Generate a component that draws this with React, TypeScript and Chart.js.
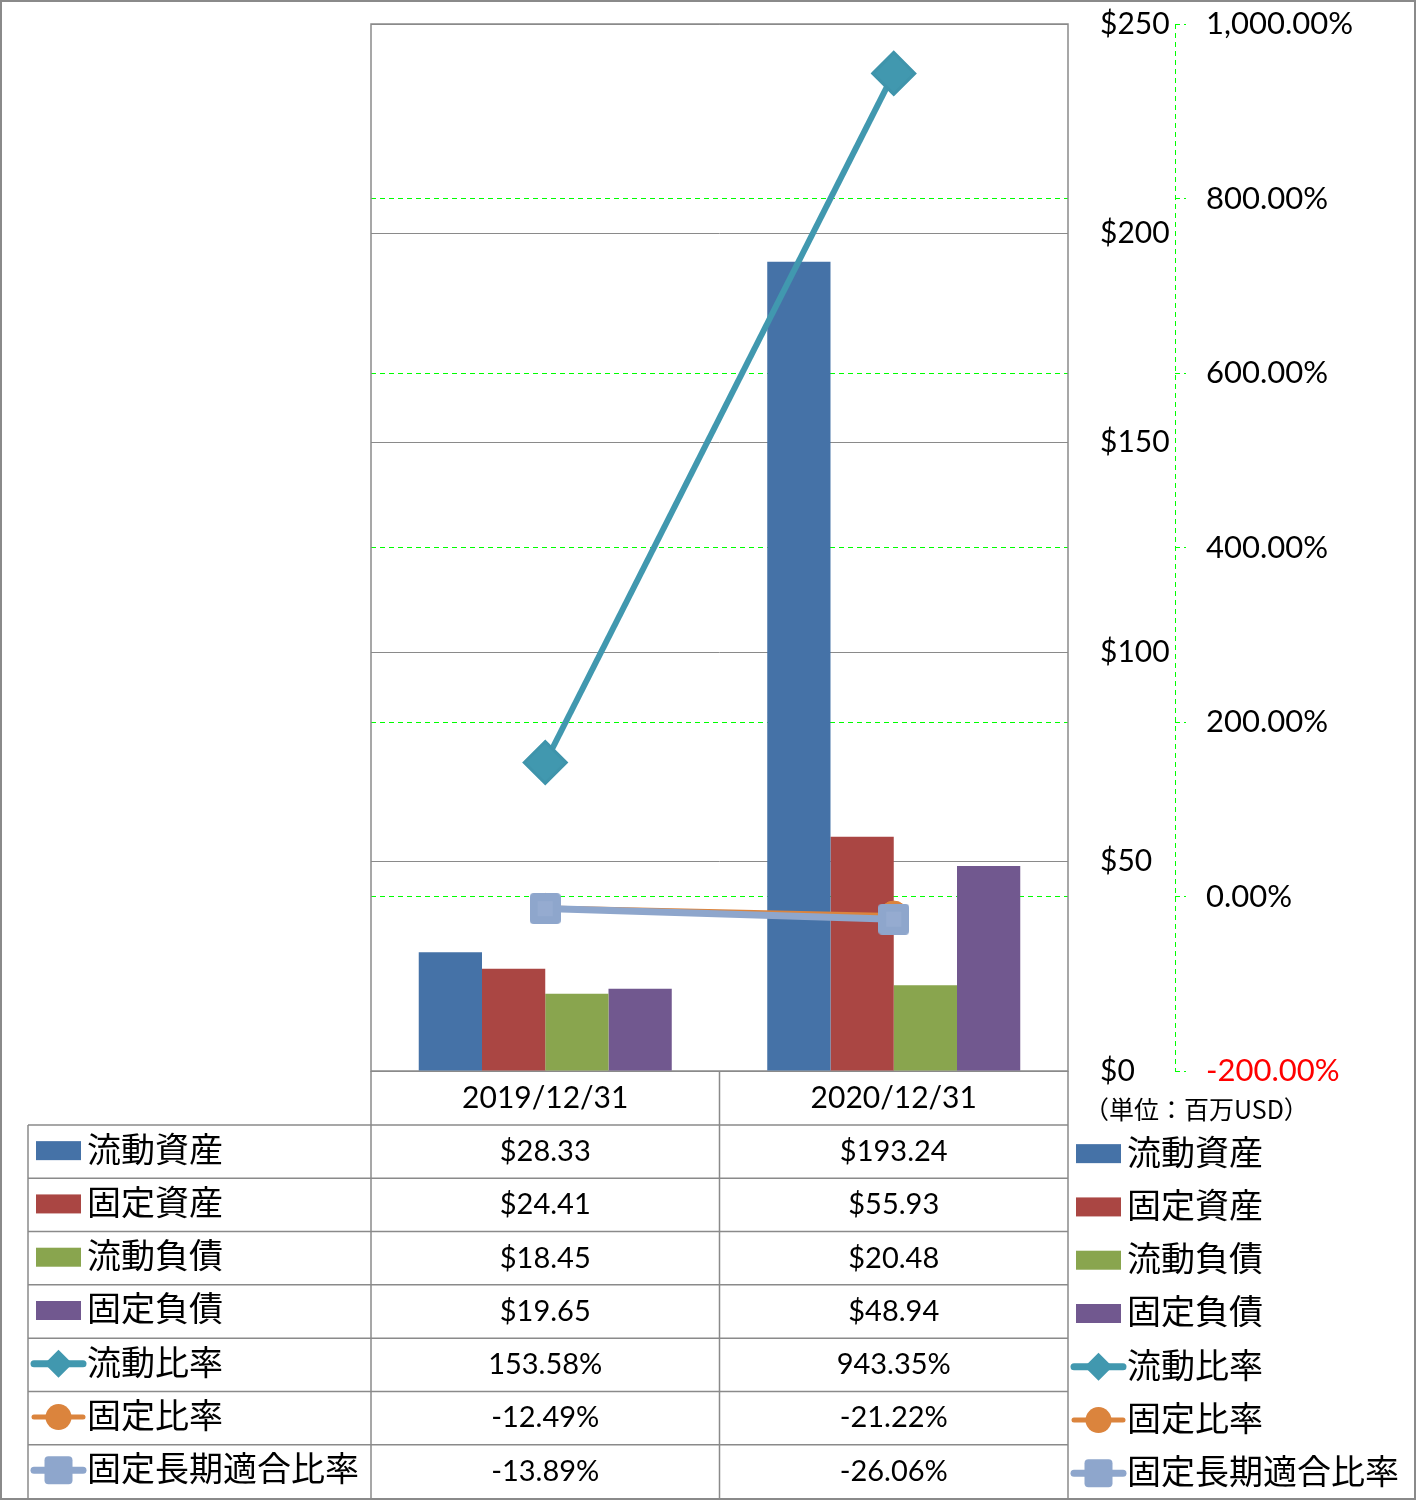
import React, { useEffect, useRef } from 'react';
import { Chart, registerables } from 'chart.js';

Chart.register(...registerables);

const categories = ['2019/12/31', '2020/12/31'];
const currentAssets = [28.33, 193.24];
const fixedAssets = [24.41, 55.93];
const currentLiabilities = [18.45, 20.48];
const fixedLiabilities = [19.65, 48.94];
const currentRatio = [153.58, 943.35];
const fixedRatio = [-12.49, -21.22];
const fixedLongTermRatio = [-13.89, -26.06];

const seriesNames = ['流動資産', '固定資産', '流動負債', '固定負債', '流動比率', '固定比率', '固定長期適合比率'];
const seriesColors = ['#4572A7', '#AA4643', '#89A54E', '#71588F', '#4198AF', '#DB843D', '#8EA6CC'];
const seriesKinds = ['bar', 'bar', 'bar', 'bar', 'rectRot', 'circle', 'rectRounded'];
const seriesData = [currentAssets, fixedAssets, currentLiabilities, fixedLiabilities, currentRatio, fixedRatio, fixedLongTermRatio];
const unitLabel = '（単位：百万USD）';

const LATIN = 'Lato, "Noto Sans", sans-serif';
const CJK = '"Noto Sans CJK JP", "Noto Sans", sans-serif';

const fmtMoney = (v: number) => '$' + v.toFixed(2);
const fmtPct = (v: number) =>
  v.toLocaleString('en-US', { minimumFractionDigits: 2, maximumFractionDigits: 2 }) + '%';

function makeSquareImage(size: number, color: string, inner: string) {
  const c = document.createElement('canvas');
  c.width = size;
  c.height = size;
  const g = c.getContext('2d')!;
  g.fillStyle = color;
  g.beginPath();
  g.roundRect(0, 0, size, size, 4);
  g.fill();
  g.fillStyle = inner;
  const m = size * 0.25;
  g.fillRect(m, m, size - 2 * m, size - 2 * m);
  return c;
}

function drawMarker(ctx: CanvasRenderingContext2D, kind: string, x: number, y: number, color: string) {
  ctx.save();
  ctx.fillStyle = color;
  ctx.beginPath();
  if (kind === 'rectRot') {
    const r = 14;
    ctx.moveTo(x - r, y);
    ctx.lineTo(x, y - r);
    ctx.lineTo(x + r, y);
    ctx.lineTo(x, y + r);
    ctx.closePath();
  } else if (kind === 'circle') {
    ctx.arc(x, y, 13, 0, Math.PI * 2);
  } else {
    const h = 14;
    ctx.roundRect(x - h, y - h, 2 * h, 2 * h, 4);
  }
  ctx.fill();
  ctx.restore();
}

function drawLegendSymbol(ctx: CanvasRenderingContext2D, idx: number, x0: number, cy: number) {
  const color = seriesColors[idx];
  const kind = seriesKinds[idx];
  if (kind === 'bar') {
    ctx.fillStyle = color;
    ctx.fillRect(x0 + 2, cy - 9.5, 45, 19);
  } else {
    ctx.save();
    ctx.strokeStyle = color;
    ctx.lineWidth = kind === 'circle' ? 5 : 7;
    ctx.lineCap = 'round';
    ctx.beginPath();
    ctx.moveTo(x0, cy);
    ctx.lineTo(x0 + 49, cy);
    ctx.stroke();
    ctx.restore();
    drawMarker(ctx, kind, x0 + 24.5, cy, color);
  }
}

const tablePlugin = {
  id: 'tablePlugin',
  beforeDatasetsDraw(chart: any) {
    const { ctx, chartArea } = chart;
    const y1 = chart.scales.y1;
    ctx.save();
    ctx.strokeStyle = '#00ff00';
    ctx.lineWidth = 1;
    ctx.setLineDash([5, 4]);
    ctx.beginPath();
    ctx.moveTo(y1.left + 0.5, chartArea.top);
    ctx.lineTo(y1.left + 0.5, chartArea.bottom);
    ctx.stroke();
    ctx.setLineDash([]);
    ctx.strokeStyle = '#8a8a8a';
    ctx.lineWidth = 1.5;
    ctx.strokeRect(chartArea.left, chartArea.top, chartArea.right - chartArea.left, chartArea.bottom - chartArea.top);
    ctx.restore();
  },
  afterDraw(chart: any) {
    const { ctx, chartArea, width, height } = chart;
    const xScale = chart.scales.x;
    const left = chartArea.left;
    const right = chartArea.right;
    const colW = (right - left) / categories.length;
    const tableLeft = 28;
    const headerBottom = 1125;
    const bottom = height - 2;
    const rowH = (bottom - headerBottom) / seriesNames.length;

    ctx.save();
    ctx.strokeStyle = '#8a8a8a';
    ctx.lineWidth = 1.5;
    ctx.beginPath();
    for (let i = 0; i <= categories.length; i++) {
      const x = left + i * colW;
      ctx.moveTo(x, chartArea.bottom);
      ctx.lineTo(x, bottom);
    }
    ctx.moveTo(tableLeft, headerBottom);
    ctx.lineTo(tableLeft, bottom);
    for (let r = 0; r < seriesNames.length; r++) {
      const y = headerBottom + r * rowH;
      ctx.moveTo(tableLeft, y);
      ctx.lineTo(right, y);
    }
    ctx.stroke();

    ctx.fillStyle = '#000';
    ctx.textAlign = 'center';
    ctx.textBaseline = 'middle';
    ctx.font = `29px ${LATIN}`;
    for (let r = 0; r < seriesNames.length; r++) {
      const cy = headerBottom + r * rowH + rowH / 2;
      for (let c = 0; c < categories.length; c++) {
        const v = seriesData[r][c];
        const txt = r < 4 ? fmtMoney(v) : fmtPct(v);
        ctx.fillText(txt, xScale.getPixelForValue(c), cy);
      }
    }

    ctx.textAlign = 'left';
    ctx.font = `34px ${CJK}`;
    for (let r = 0; r < seriesNames.length; r++) {
      const cy = headerBottom + r * rowH + rowH / 2 - 1;
      drawLegendSymbol(ctx, r, 34, cy);
      ctx.fillStyle = '#000';
      ctx.fillText(seriesNames[r], 87, cy - 2);
    }

    for (let r = 0; r < seriesNames.length; r++) {
      const cy = headerBottom + r * rowH + rowH / 2 + 2;
      drawLegendSymbol(ctx, r, 1074, cy);
      ctx.fillStyle = '#000';
      ctx.font = `34px ${CJK}`;
      ctx.fillText(seriesNames[r], 1127, cy - 2);
    }

    ctx.font = `25px ${CJK}`;
    ctx.fillStyle = '#000';
    ctx.fillText(unitLabel, 1084, 1109);

    ctx.strokeStyle = '#8a8a8a';
    ctx.lineWidth = 2;
    ctx.strokeRect(1, 1, width - 2, height - 2);
    ctx.restore();
  },
};

export default function App() {
  const canvasRef = useRef<HTMLCanvasElement | null>(null);

  useEffect(() => {
    document.body.style.margin = '0';
    const canvas = canvasRef.current;
    if (!canvas) return;

    const squareImg = makeSquareImage(31, '#8EA6CC', '#95ABD0');

    const barSets = [0, 1, 2, 3].map((i) => ({
      type: 'bar' as const,
      label: seriesNames[i],
      data: seriesData[i],
      backgroundColor: seriesColors[i],
      borderWidth: 0,
      yAxisID: 'y',
      categoryPercentage: 0.726,
      barPercentage: 1.0,
      order: 10,
    }));

    const lineSets = [
      {
        type: 'line' as const,
        label: seriesNames[4],
        data: seriesData[4],
        borderColor: seriesColors[4],
        backgroundColor: seriesColors[4],
        borderWidth: 6,
        pointStyle: 'rectRot',
        pointRadius: 21,
        pointBorderWidth: 3,
        pointBackgroundColor: seriesColors[4],
        pointBorderColor: '#3f94ab',
        yAxisID: 'y1',
        order: 3,
      },
      {
        type: 'line' as const,
        label: seriesNames[5],
        data: seriesData[5],
        borderColor: seriesColors[5],
        backgroundColor: seriesColors[5],
        borderWidth: 4,
        pointStyle: 'circle',
        pointRadius: 14,
        pointBorderWidth: 1,
        pointBackgroundColor: seriesColors[5],
        pointBorderColor: seriesColors[5],
        yAxisID: 'y1',
        order: 2,
      },
      {
        type: 'line' as const,
        label: seriesNames[6],
        data: seriesData[6],
        borderColor: seriesColors[6],
        backgroundColor: seriesColors[6],
        borderWidth: 7,
        pointStyle: squareImg,
        pointRadius: 16,
        pointBorderWidth: 0,
        yAxisID: 'y1',
        order: 1,
      },
    ];

    const fixPad = (s: any) => {
      s.paddingTop = 0;
      s.paddingBottom = 0;
    };

    const chart = new Chart(canvas, {
      type: 'bar',
      data: {
        labels: categories,
        datasets: [...barSets, ...lineSets] as any,
      },
      options: {
        responsive: false,
        animation: false,
        devicePixelRatio: 1,
        layout: { padding: { left: 371, top: 22, right: 0, bottom: 0 } },
        plugins: {
          legend: { display: false },
          tooltip: { enabled: false },
        },
        scales: {
          x: {
            grid: { display: false, drawTicks: false },
            border: { display: false },
            ticks: {
              color: '#000',
              font: { family: LATIN, size: 30 },
              padding: 9,
              maxRotation: 0,
            },
            afterFit: (s: any) => {
              s.height = 429;
            },
          },
          y: {
            position: 'right',
            min: 0,
            max: 250,
            ticks: {
              stepSize: 50,
              color: '#000',
              font: { family: LATIN, size: 30 },
              padding: 32,
              callback: (v: any) => '$' + v,
            },
            grid: { color: '#8a8a8a', lineWidth: 1, drawTicks: false },
            border: { display: false },
            afterFit: (s: any) => {
              s.width = 107;
              fixPad(s);
            },
          },
          y1: {
            position: 'right',
            min: -200,
            max: 1000,
            ticks: {
              stepSize: 200,
              color: (c: any) => (c.tick && c.tick.value < 0 ? '#ff0000' : '#000'),
              font: { family: LATIN, size: 31 },
              padding: 20,
              callback: (v: any) => fmtPct(Number(v)),
            },
            grid: {
              color: (c: any) =>
                c.tick && (c.tick.value === -200 || c.tick.value === 1000) ? 'rgba(0,0,0,0)' : '#00ff00',
              tickColor: '#00ff00',
              tickLength: 11,
              tickBorderDash: [5, 4],
              lineWidth: 1,
            },
            border: { display: false, dash: [5, 4] },
            afterFit: (s: any) => {
              s.width = 241;
              fixPad(s);
            },
          },
        },
      } as any,
      plugins: [tablePlugin],
    });

    return () => chart.destroy();
  }, []);

  return (
    <div style={{ width: 1416, height: 1500, background: '#fff' }}>
      <canvas ref={canvasRef} width={1416} height={1500} style={{ display: 'block' }} />
    </div>
  );
}
